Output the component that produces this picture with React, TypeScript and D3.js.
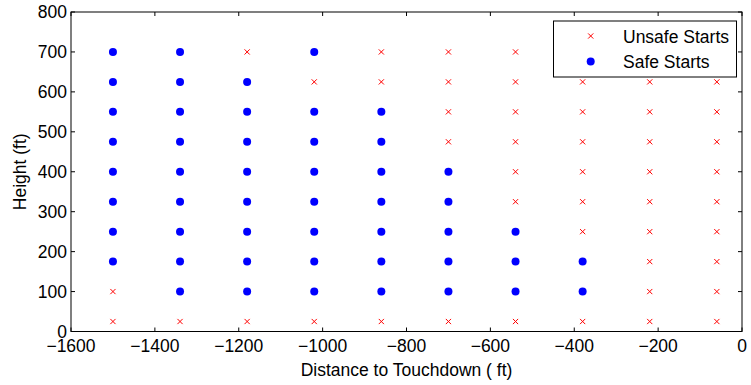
import React from "react";
import * as d3 from "d3";

const distances = [-1500, -1340, -1180, -1020, -860, -700, -540, -380, -220, -60];
const heights = [25, 100, 175, 250, 325, 400, 475, 550, 625, 700];
// safeRows[i][j]: 1 = safe, 0 = unsafe; i indexes heights, j indexes distances
const safeRows = [
  [0, 0, 0, 0, 0, 0, 0, 0, 0, 0], // 25
  [0, 1, 1, 1, 1, 1, 1, 1, 0, 0], // 100
  [1, 1, 1, 1, 1, 1, 1, 1, 0, 0], // 175
  [1, 1, 1, 1, 1, 1, 1, 0, 0, 0], // 250
  [1, 1, 1, 1, 1, 1, 0, 0, 0, 0], // 325
  [1, 1, 1, 1, 1, 1, 0, 0, 0, 0], // 400
  [1, 1, 1, 1, 1, 0, 0, 0, 0, 0], // 475
  [1, 1, 1, 1, 1, 0, 0, 0, 0, 0], // 550
  [1, 1, 1, 0, 0, 0, 0, 0, 0, 0], // 625
  [1, 1, 0, 1, 0, 0, 0, 0, 0, 0], // 700
];
const xTicks = [-1600, -1400, -1200, -1000, -800, -600, -400, -200, 0];
const yTicks = [0, 100, 200, 300, 400, 500, 600, 700, 800];
const legendLabels = ["Unsafe Starts", "Safe Starts"];

const W = 751;
const H = 385;
const left = 71;
const right = 742;
const top = 12;
const bottom = 331.5;
const FONT = "Liberation Sans, Arial, Helvetica, sans-serif";
const FS = 17.5;

export default function App() {
  const x = d3.scaleLinear().domain([-1600, 0]).range([left, right]);
  const y = d3.scaleLinear().domain([0, 800]).range([bottom, top]);

  const pts: { d: number; h: number; safe: boolean }[] = [];
  heights.forEach((h, i) =>
    distances.forEach((d, j) => pts.push({ d, h, safe: safeRows[i][j] === 1 }))
  );
  const unsafe = pts.filter((p) => !p.safe);
  const safe = pts.filter((p) => p.safe);
  const fmt = (v: number) => (v < 0 ? "\u2212" + Math.abs(v) : String(v));
  const xs = 2.6;

  const cross = (cx: number, cy: number, k: string | number) => (
    <path
      key={k}
      d={`M${cx - xs},${cy - xs}L${cx + xs},${cy + xs}M${cx - xs},${cy + xs}L${cx + xs},${cy - xs}`}
      stroke="#ff0000"
      strokeWidth={1}
      fill="none"
    />
  );

  const lx = 553.5, ly = 21, lw = 183, lh = 56;

  return (
    <svg width={W} height={H} style={{ position: "absolute", left: 0, top: 0, background: "#fff" }} fontFamily={FONT}>
      <rect x={0} y={0} width={W} height={H} fill="#fff" />
      {unsafe.map((p, i) => cross(x(p.d), y(p.h), "u" + i))}
      {safe.map((p, i) => (
        <circle key={"s" + i} cx={x(p.d)} cy={y(p.h)} r={4} fill="#0000ff" />
      ))}
      {/* axes box */}
      <rect x={left} y={top} width={right - left} height={bottom - top} fill="none" stroke="#000" strokeWidth={1} />
      {xTicks.map((t) => (
        <g key={"xt" + t}>
          <line x1={x(t)} x2={x(t)} y1={bottom} y2={bottom - 4} stroke="#000" />
          <line x1={x(t)} x2={x(t)} y1={top} y2={top + 4} stroke="#000" />
          <text x={x(t)} y={352} fontSize={FS} textAnchor="middle" fill="#000">
            {fmt(t)}
          </text>
        </g>
      ))}
      {yTicks.map((t) => (
        <g key={"yt" + t}>
          <line x1={left} x2={left + 4} y1={y(t)} y2={y(t)} stroke="#000" />
          <line x1={right} x2={right - 4} y1={y(t)} y2={y(t)} stroke="#000" />
          <text x={67} y={y(t) + 6} fontSize={FS} textAnchor="end" fill="#000">
            {fmt(t)}
          </text>
        </g>
      ))}
      <text x={(left + right) / 2} y={376} fontSize={FS} textAnchor="middle" fill="#000">
        Distance to Touchdown ( ft)
      </text>
      <text
        transform={`translate(26,${(top + bottom) / 2}) rotate(-90)`}
        fontSize={FS}
        textAnchor="middle"
        fill="#000"
      >
        Height (ft)
      </text>
      {/* legend */}
      <rect x={lx} y={ly} width={lw} height={lh} fill="#fff" stroke="#000" strokeWidth={1} />
      {cross(590.7, 36, "lu")}
      <text x={623} y={42.5} fontSize={FS} fill="#000">
        {legendLabels[0]}
      </text>
      <circle cx={590.7} cy={61.5} r={4} fill="#0000ff" />
      <text x={623} y={68} fontSize={FS} fill="#000">
        {legendLabels[1]}
      </text>
    </svg>
  );
}
